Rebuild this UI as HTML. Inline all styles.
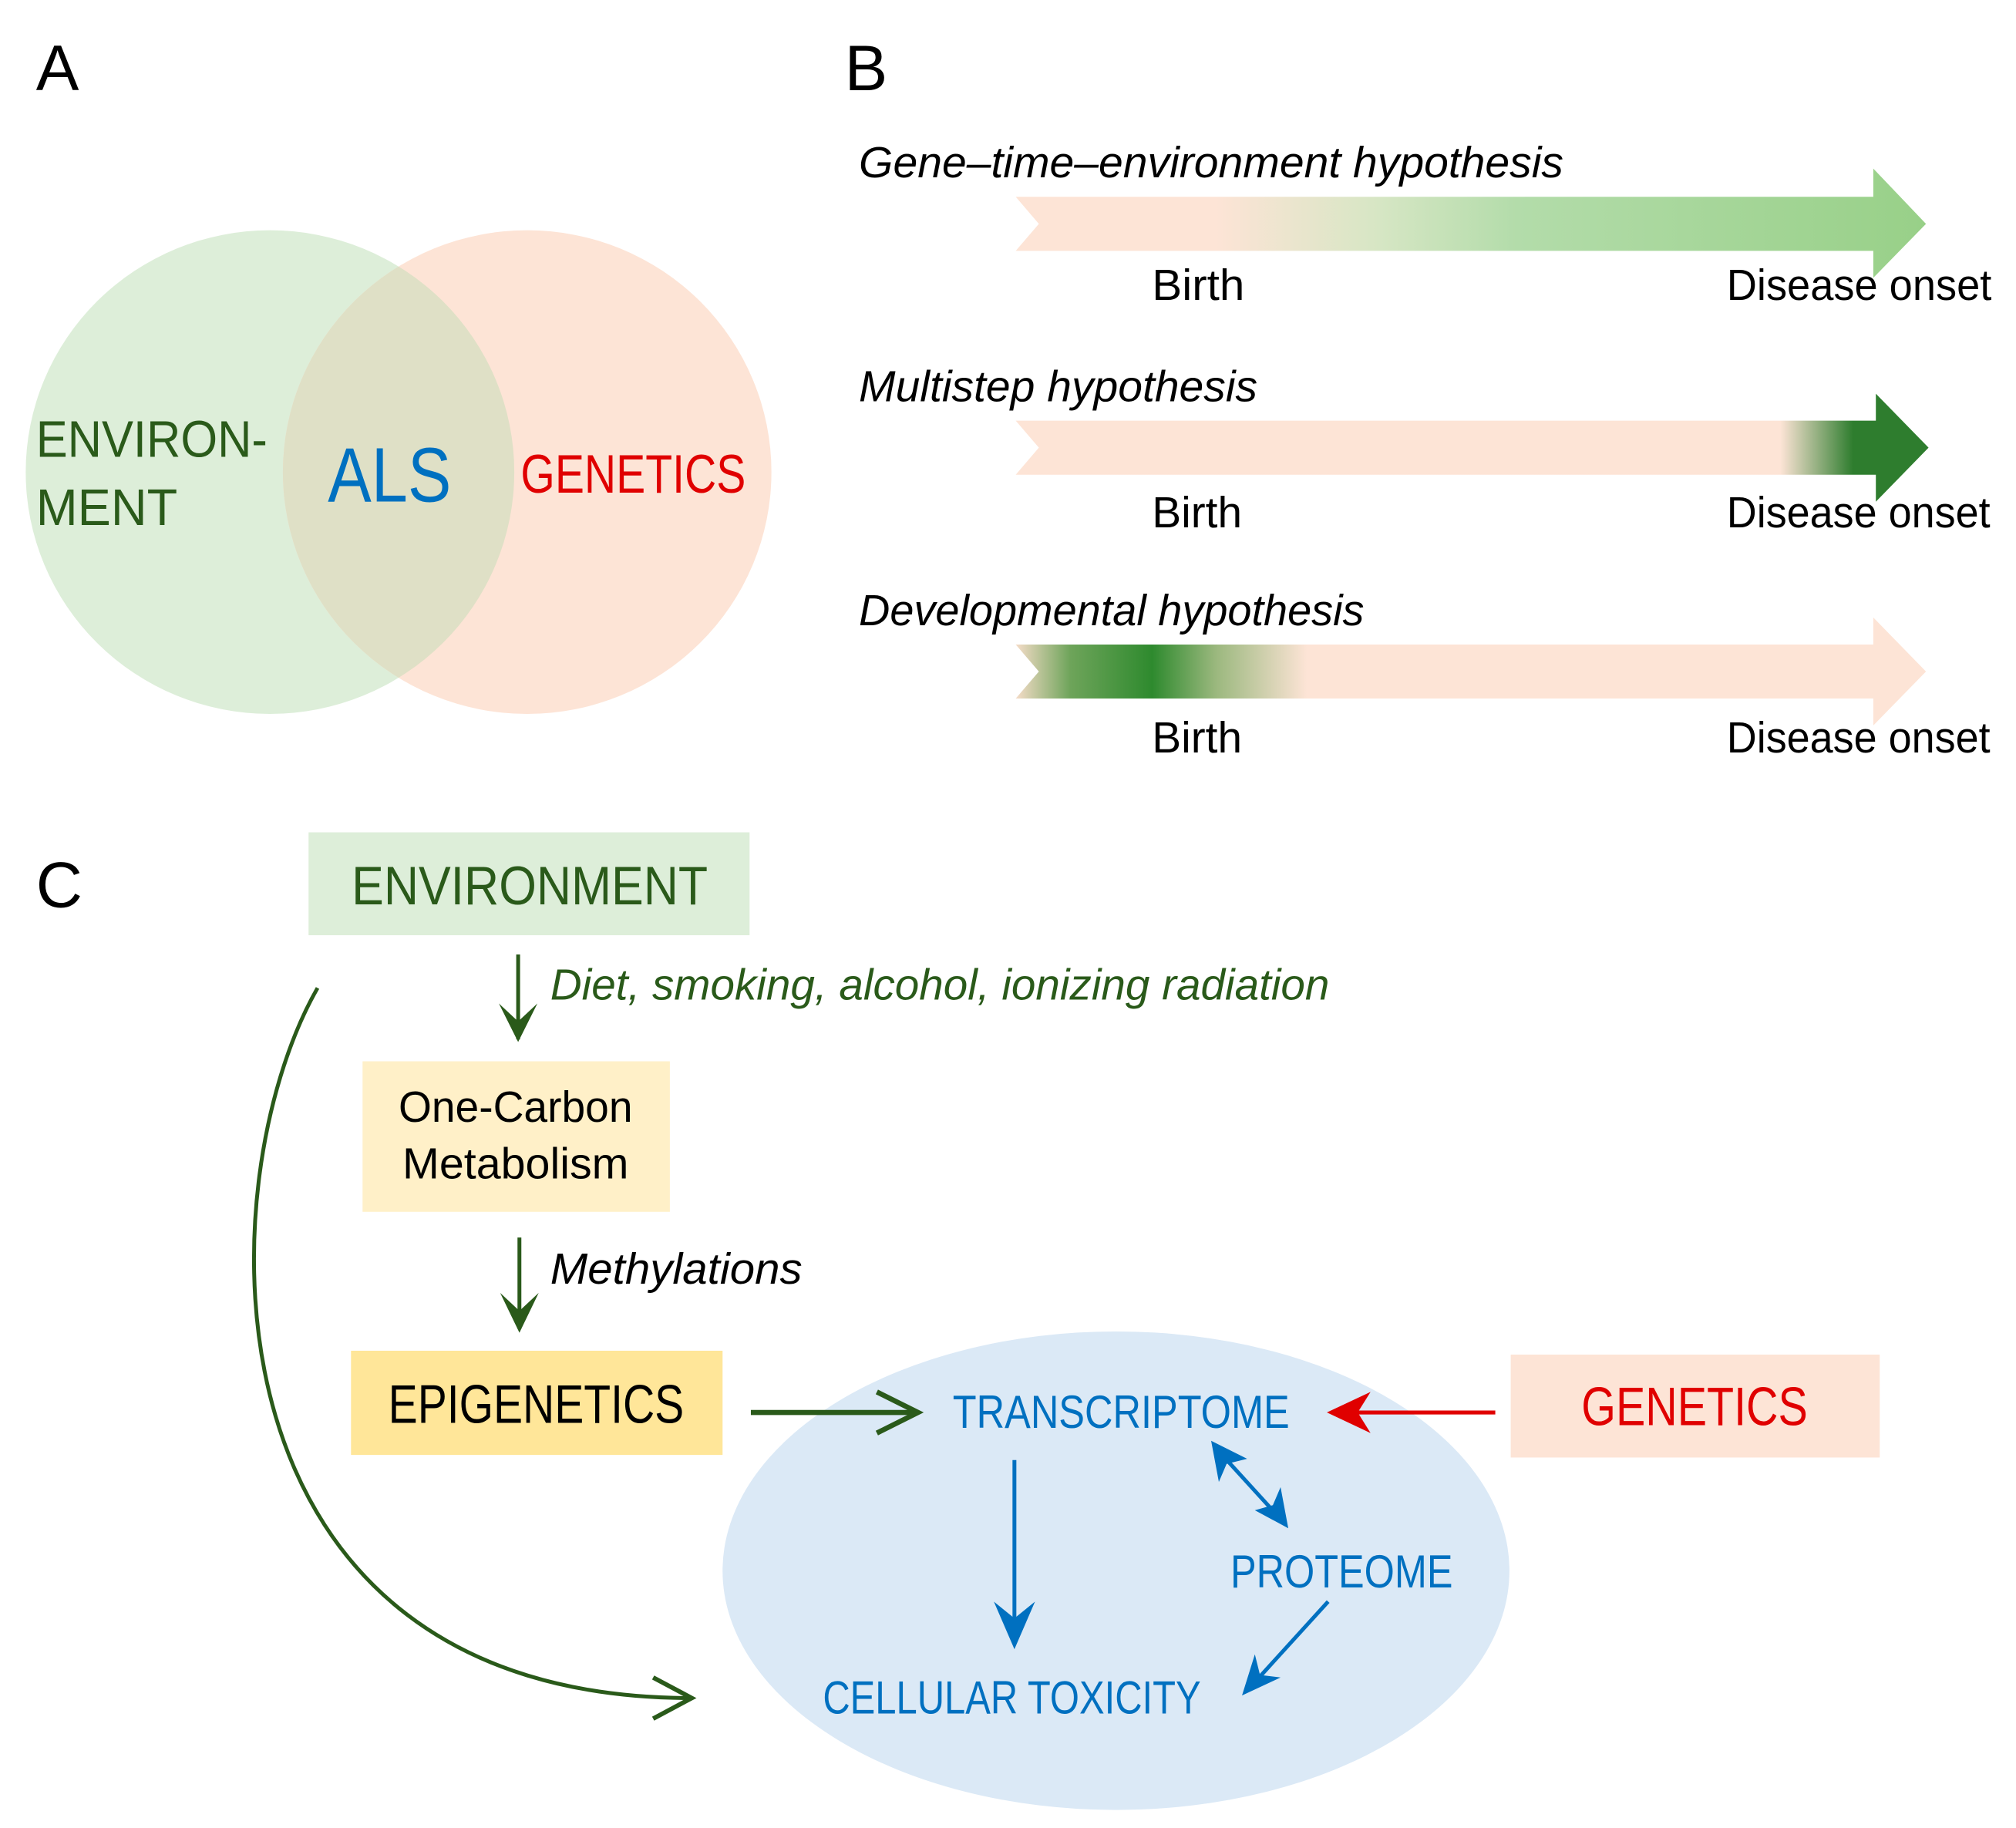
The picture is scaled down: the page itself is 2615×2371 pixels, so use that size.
<!DOCTYPE html>
<html><head><meta charset="utf-8"><style>html,body{margin:0;padding:0;background:#fff}svg{display:block}</style></head>
<body>
<svg width="2615" height="2371" viewBox="0 0 1568 1421" preserveAspectRatio="none" xmlns="http://www.w3.org/2000/svg" font-family="Liberation Sans, sans-serif">
<defs>
<linearGradient id="g1" x1="790" x2="1498" gradientUnits="userSpaceOnUse">
<stop offset="0" stop-color="#fde4d6"/><stop offset="0.22" stop-color="#fde4d6"/><stop offset="0.4" stop-color="#d6e6c4"/><stop offset="0.55" stop-color="#b3dcaa"/><stop offset="1" stop-color="#98d088"/></linearGradient>
<linearGradient id="g2" x1="790" x2="1498" gradientUnits="userSpaceOnUse">
<stop offset="0" stop-color="#fde4d6"/><stop offset="0.84" stop-color="#fde4d6"/><stop offset="0.92" stop-color="#2e7d2e"/><stop offset="1" stop-color="#2e7d2e"/></linearGradient>
<linearGradient id="g3" x1="790" x2="1498" gradientUnits="userSpaceOnUse">
<stop offset="0" stop-color="#f5dcc8"/><stop offset="0.06" stop-color="#6ea45a"/><stop offset="0.15" stop-color="#2e8a2e"/><stop offset="0.22" stop-color="#9bb87e"/><stop offset="0.32" stop-color="#fde4d6"/><stop offset="1" stop-color="#fde4d6"/></linearGradient>
</defs>
<g lengthAdjust="spacingAndGlyphs">
<text x="28" y="70" font-size="50" fill="#000">A</text>
<text x="657" y="70" font-size="50" fill="#000">B</text>
<ellipse cx="210" cy="367" rx="190" ry="188" fill="#ddeed9"/>
<ellipse cx="410" cy="367" rx="190" ry="188" fill="#fde4d6"/>
<clipPath id="cg"><ellipse cx="210" cy="367" rx="190" ry="188"/></clipPath>
<ellipse cx="410" cy="367" rx="190" ry="188" fill="#dfe0c6" clip-path="url(#cg)"/>
<text x="28" y="355" font-size="40" fill="#2a5a1a" textLength="180" lengthAdjust="spacingAndGlyphs">ENVIRON-</text>
<text x="28" y="408" font-size="40" fill="#2a5a1a" textLength="110" lengthAdjust="spacingAndGlyphs">MENT</text>
<text x="255" y="390" font-size="60" fill="#0070c0" textLength="96" lengthAdjust="spacingAndGlyphs">ALS</text>
<text x="405" y="383" font-size="42" fill="#e00000" textLength="175" lengthAdjust="spacingAndGlyphs">GENETICS</text>

<g font-size="34">
<text x="668" y="138" font-style="italic" textLength="548" lengthAdjust="spacingAndGlyphs">Gene–time–environment  hypothesis</text>
<path d="M790,153 L1457,153 L1457,131 L1498,174 L1457,216 L1457,195 L790,195 L808,174Z" fill="url(#g1)"/>
<text x="896" y="233" textLength="72" lengthAdjust="spacingAndGlyphs">Birth</text>
<text x="1343" y="233" textLength="206" lengthAdjust="spacingAndGlyphs">Disease onset</text>
<text x="668" y="312" font-style="italic" textLength="310" lengthAdjust="spacingAndGlyphs">Multistep hypothesis</text>
<path d="M790,327 L1459,327 L1459,306 L1500,348 L1459,390 L1459,369 L790,369 L808,348Z" fill="url(#g2)"/>
<text x="896" y="410" textLength="70" lengthAdjust="spacingAndGlyphs">Birth</text>
<text x="1343" y="410" textLength="205" lengthAdjust="spacingAndGlyphs">Disease onset</text>
<text x="668" y="486" font-style="italic" textLength="393" lengthAdjust="spacingAndGlyphs">Developmental hypothesis</text>
<path d="M790,501 L1457,501 L1457,480 L1498,522 L1457,564 L1457,543 L790,543 L808,522Z" fill="url(#g3)"/>
<text x="896" y="585" textLength="70" lengthAdjust="spacingAndGlyphs">Birth</text>
<text x="1343" y="585" textLength="205" lengthAdjust="spacingAndGlyphs">Disease onset</text>
</g>

<text x="28" y="705" font-size="50" fill="#000">C</text>
<rect x="240" y="647" width="343" height="80" fill="#ddeed9"/>
<text x="412" y="703" font-size="42" fill="#2a5a1a" text-anchor="middle" textLength="277" lengthAdjust="spacingAndGlyphs">ENVIRONMENT</text>
<line x1="403" y1="742" x2="403" y2="808" stroke="#2a5a1a" stroke-width="3"/>
<path d="M388,780 L403,810 L418,780 L403,794Z" fill="#2a5a1a"/>
<text x="428" y="777" font-size="34" font-style="italic" fill="#2a5a1a" textLength="606" lengthAdjust="spacingAndGlyphs">Diet, smoking, alcohol, ionizing radiation</text>
<rect x="282" y="825" width="239" height="117" fill="#fff0c8"/>
<text x="401" y="872" font-size="34" text-anchor="middle" textLength="182" lengthAdjust="spacingAndGlyphs">One-Carbon</text>
<text x="401" y="916" font-size="34" text-anchor="middle" textLength="176" lengthAdjust="spacingAndGlyphs">Metabolism</text>
<line x1="404" y1="962" x2="404" y2="1033" stroke="#2a5a1a" stroke-width="3"/>
<path d="M389,1005 L404,1036 L419,1005 L404,1019Z" fill="#2a5a1a"/>
<text x="428" y="998" font-size="34" font-style="italic" textLength="196" lengthAdjust="spacingAndGlyphs">Methylations</text>
<rect x="273" y="1050" width="289" height="81" fill="#ffe699"/>
<text x="417" y="1106" font-size="42" text-anchor="middle" textLength="230" lengthAdjust="spacingAndGlyphs">EPIGENETICS</text>
<ellipse cx="868" cy="1221" rx="306" ry="186" fill="#dbe9f6"/>
<path d="M247,768 C160,920 150,1320 538,1320" fill="none" stroke="#2a5a1a" stroke-width="3"/>
<path d="M508,1304 L538,1320 L508,1336" fill="none" stroke="#2a5a1a" stroke-width="3.5"/>
<line x1="584" y1="1098" x2="712" y2="1098" stroke="#2a5a1a" stroke-width="4"/>
<path d="M682,1082 L714,1098 L682,1114" fill="none" stroke="#2a5a1a" stroke-width="4"/>
<text x="741" y="1110" font-size="36" fill="#0070c0" textLength="262" lengthAdjust="spacingAndGlyphs">TRANSCRIPTOME</text>
<line x1="1163" y1="1098" x2="1036" y2="1098" stroke="#e00000" stroke-width="3"/>
<path d="M1066,1082 L1032,1098 L1066,1114 L1056,1098Z" fill="#e00000"/>
<rect x="1175" y="1053" width="287" height="80" fill="#fde4d6"/>
<text x="1318" y="1108" font-size="42" fill="#e00000" text-anchor="middle" textLength="176" lengthAdjust="spacingAndGlyphs">GENETICS</text>
<line x1="789" y1="1135" x2="789" y2="1275" stroke="#0070c0" stroke-width="3"/>
<path d="M773,1245 L789,1282 L805,1245 L789,1258Z" fill="#0070c0"/>
<line x1="946" y1="1126" x2="998" y2="1183" stroke="#0070c0" stroke-width="3"/>
<path d="M942,1120 L970,1134 L954,1138 L948,1152Z" fill="#0070c0"/>
<path d="M1002,1188 L976,1174 L990,1170 L996,1156Z" fill="#0070c0"/>
<text x="957" y="1234" font-size="36" fill="#0070c0" textLength="173" lengthAdjust="spacingAndGlyphs">PROTEOME</text>
<line x1="1033" y1="1245" x2="972" y2="1312" stroke="#0070c0" stroke-width="3"/>
<path d="M966,1318 L976,1286 L980,1302 L996,1304Z" fill="#0070c0"/>
<text x="640" y="1332" font-size="36" fill="#0070c0" textLength="294" lengthAdjust="spacingAndGlyphs">CELLULAR TOXICITY</text>
</g>
</svg>
</body></html>
